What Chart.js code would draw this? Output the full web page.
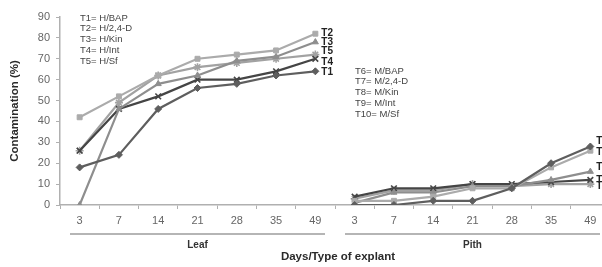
<!DOCTYPE html>
<html>
<head>
<meta charset="utf-8">
<script src="https://cdn.jsdelivr.net/npm/chart.js@4"></script>
<style>
  body { margin: 0; overflow: hidden; background: #fff; }
</style>
</head>
<body>
<canvas id="myChart" width="640" height="267"></canvas>
<script>
const days = ['3', '7', '14', '21', '28', '35', '49'];
const groups = ['Leaf', 'Pith'];
const yTicks = [0, 10, 20, 30, 40, 50, 60, 70, 80, 90];

// leaf treatments
const t1 = [18, 24, 46, 56, 58, 62, 64];
const t2 = [42, 52, 62, 70, 72, 74, 82];
const t3 = [0, 46, 58, 62, 69, 71, 78];
const t4 = [26, 46, 52, 60, 60, 64, 70];
const t5 = [26, 49, 62, 66, 68, 70, 72];
// pith treatments
const t6 = [0, 0, 2, 2, 8, 20, 28];
const t7 = [2, 2, 4, 8, 8, 18, 26];
const t8 = [1, 6, 6, 9, 9, 12, 16];
const t9 = [4, 8, 8, 10, 10, 11, 12];
const t10 = [3, 7, 7, 10, 9, 10, 10];

const leafKey = ['T1= H/BAP', 'T2= H/2,4-D', 'T3= H/Kin', 'T4= H/Int', 'T5= H/Sf'];
const pithKey = ['T6= M/BAP', 'T7= M/2,4-D', 'T8= M/Kin', 'T9= M/Int', 'T10= M/Sf'];

const empty = days.map(() => null);
const labels = days.concat(days);

function series(name, vals, pith, color, shape, dy) {
  const thin = shape == 'crossRot' || shape == 'star';
  return {
    label: name,
    data: pith ? empty.concat(vals) : vals.concat(empty),
    borderColor: color,
    backgroundColor: color,
    pointStyle: shape,
    pointRadius: thin ? 4 : 3.5,
    pointBorderWidth: thin ? 1.6 : 1,
    borderWidth: 2.2,
    tension: 0,
    spanGaps: false,
    endDy: dy
  };
}

const datasets = [
  series('T1', t1, false, '#5e5e5e', 'rectRot', 1),
  series('T2', t2, false, '#ababab', 'rect', 0),
  series('T3', t3, false, '#8e8e8e', 'triangle', 0),
  series('T4', t4, false, '#454545', 'crossRot', 3),
  series('T5', t5, false, '#a2a2a2', 'star', -3),
  series('T6', t6, true, '#5e5e5e', 'rectRot', -5),
  series('T7', t7, true, '#ababab', 'rect', 2),
  series('T8', t8, true, '#8e8e8e', 'triangle', -4),
  series('T9', t9, true, '#454545', 'crossRot', 0),
  series('T10', t10, true, '#a2a2a2', 'star', 2)
];

const extras = {
  id: 'extras',
  afterDraw(chart) {
    const c = chart.ctx;
    const x = chart.scales.x;
    const y = chart.scales.y;
    const step = x.getPixelForValue(1) - x.getPixelForValue(0);
    c.save();

    // end labels
    c.font = 'bold 10px "Liberation Sans", Arial, sans-serif';
    c.fillStyle = '#222';
    c.textBaseline = 'middle';
    c.textAlign = 'left';
    chart.data.datasets.forEach((ds, i) => {
      const meta = chart.getDatasetMeta(i);
      let last = null;
      meta.data.forEach((p, j) => { if (ds.data[j] != null) last = p; });
      if (last) c.fillText(ds.label, last.x + 6, last.y + ds.endDy);
    });

    // key text
    c.font = '9.5px "Liberation Sans", Arial, sans-serif';
    c.fillStyle = '#444';
    leafKey.forEach((t, i) => c.fillText(t, 80, 18 + i * 10.8));
    pithKey.forEach((t, i) => c.fillText(t, 355, 71 + i * 10.8));

    // group brackets
    c.strokeStyle = '#b5b5b5';
    c.lineWidth = 2;
    c.font = 'bold 10px "Liberation Sans", Arial, sans-serif';
    c.fillStyle = '#333';
    c.textAlign = 'center';
    groups.forEach((g, k) => {
      const a = x.getPixelForValue(k * days.length) - step / 2 + 10;
      const b = x.getPixelForValue(k * days.length + days.length - 1) + step / 2 - 10;
      c.beginPath();
      c.moveTo(a, 234);
      c.lineTo(b, 234);
      c.stroke();
      c.fillText(g, (a + b) / 2, 245);
    });

    // axis titles
    c.font = 'bold 11.5px "Liberation Sans", Arial, sans-serif';
    c.fillStyle = '#2a2a2a';
    c.fillText('Days/Type of explant', 338, 257);
    c.translate(15, (y.top + y.bottom) / 2);
    c.rotate(-Math.PI / 2);
    c.fillText('Contamination (%)', 0, 0);
    c.restore();
  }
};

new Chart(document.getElementById('myChart'), {
  type: 'line',
  data: { labels: labels, datasets: datasets },
  options: {
    responsive: false,
    animation: false,
    layout: { padding: { left: 0, right: 30, top: 17, bottom: 0 } },
    plugins: { legend: { display: false }, tooltip: { enabled: false } },
    scales: {
      x: {
        type: 'category',
        offset: true,
        afterFit(s) { s.height = 62; },
        grid: { display: true, offset: true, drawOnChartArea: false, tickLength: 4, color: '#b0b0b0', lineWidth: 1 },
        border: { display: true, color: '#b0b0b0', width: 1.5 },
        ticks: {
          autoSkip: false, maxRotation: 0, padding: 5,
          color: '#666', font: { size: 11, family: '"Liberation Sans", Arial, sans-serif' }
        }
      },
      y: {
        min: 0,
        max: 90,
        afterFit(s) { s.width = 60; },
        afterBuildTicks(s) { s.ticks = yTicks.map(v => ({ value: v })); },
        grid: { display: true, drawOnChartArea: false, tickLength: 4, color: '#b0b0b0' },
        border: { display: true, color: '#b0b0b0', width: 1.5 },
        ticks: {
          padding: 6,
          color: '#666', font: { size: 11, family: '"Liberation Sans", Arial, sans-serif' }
        }
      }
    }
  },
  plugins: [extras]
});
</script>
</body>
</html>
